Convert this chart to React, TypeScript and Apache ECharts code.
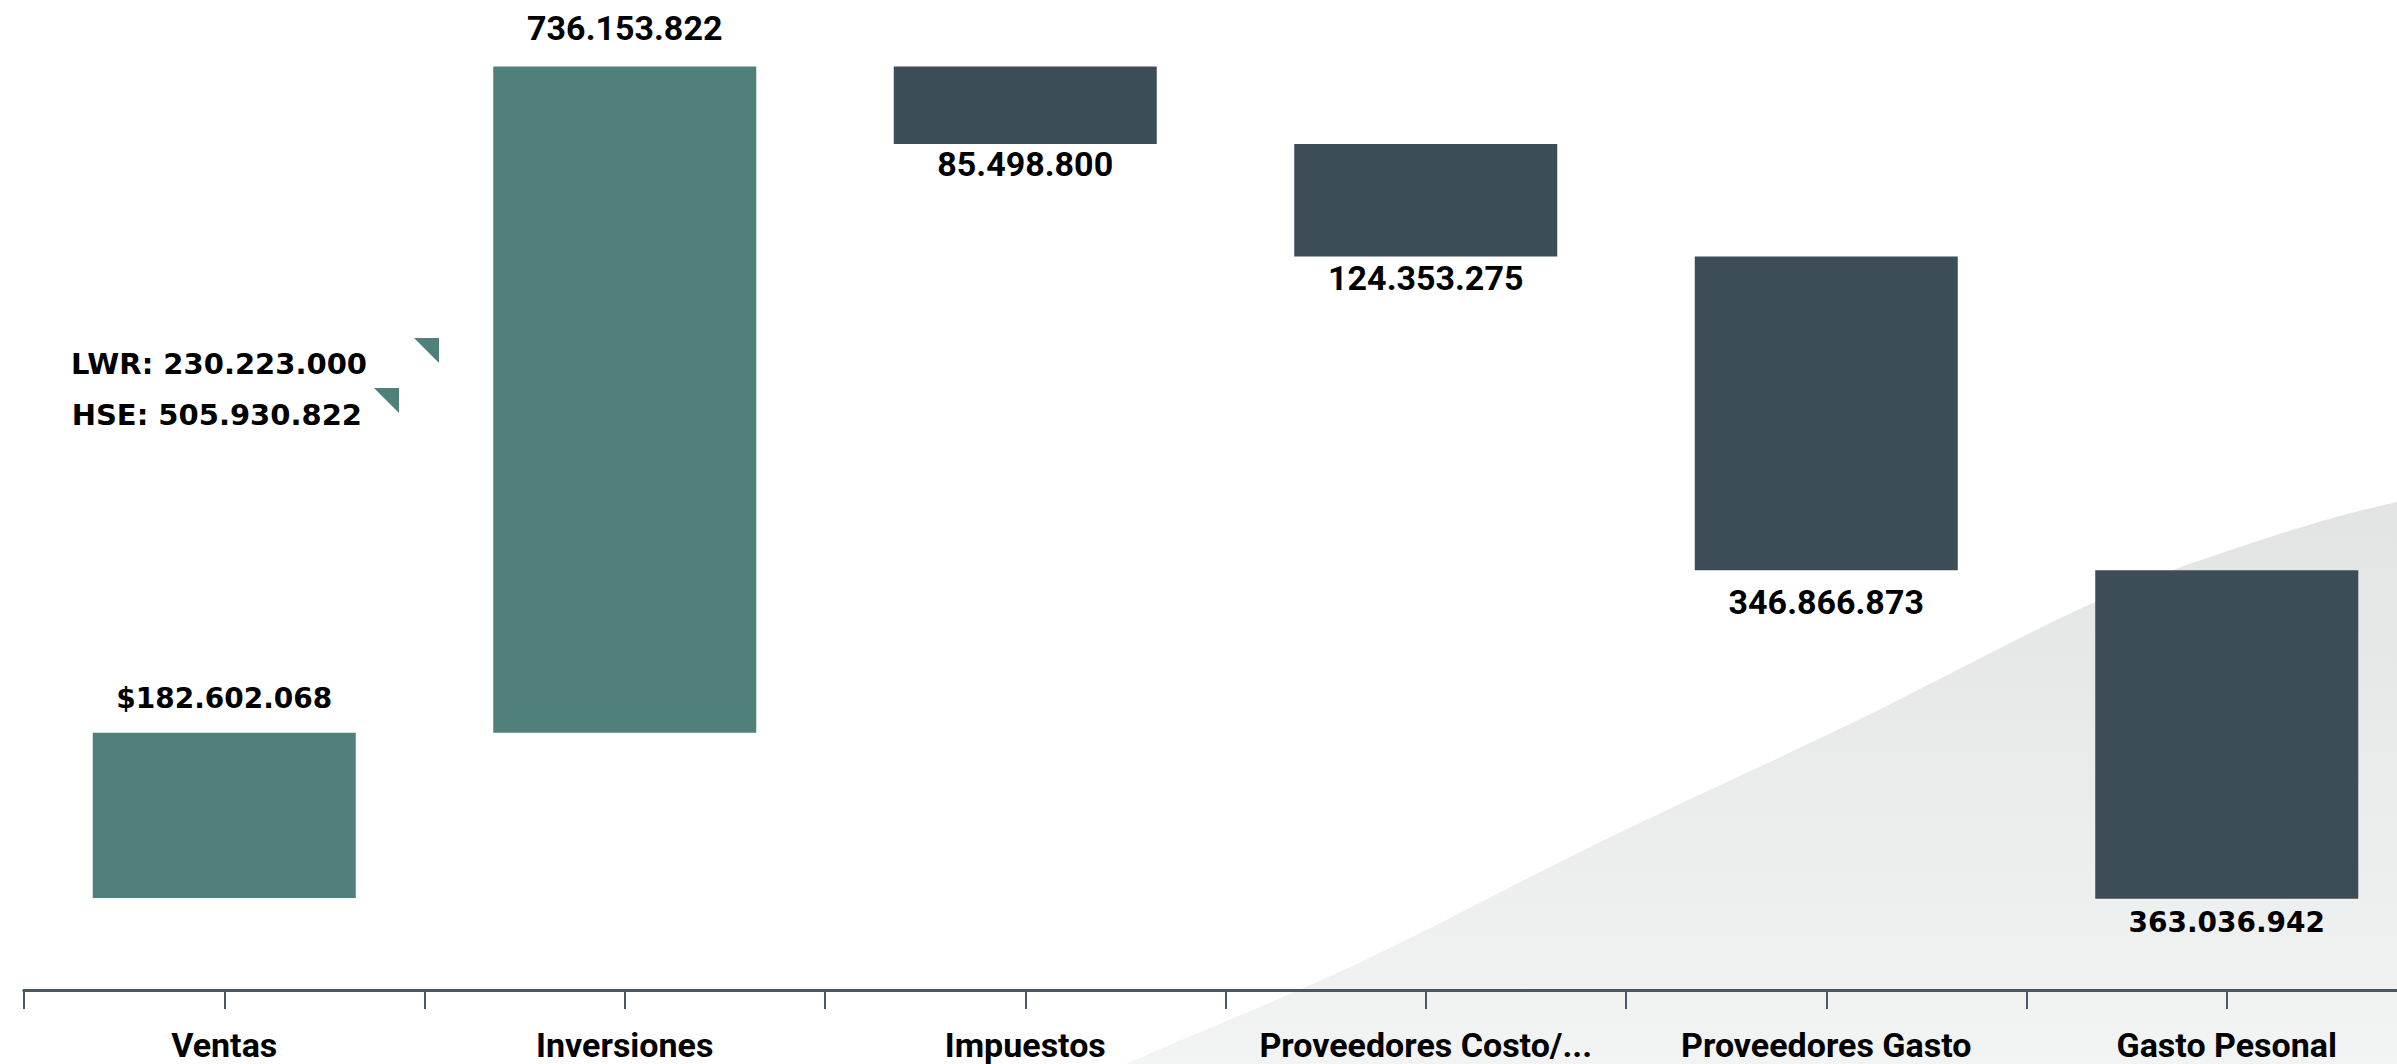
import React, { useEffect, useRef } from "react";
import * as echarts from "echarts";

// ---- data ----
const categories = [
  "Ventas",
  "Inversiones",
  "Impuestos",
  "Proveedores Costo/...",
  "Proveedores Gasto",
  "Gasto Pesonal",
];
const deltas = [182602068, 736153822, -85498800, -124353275, -346866873, -363036942];
const inversionesParts = [
  { name: "LWR", value: 230223000 },
  { name: "HSE", value: 505930822 },
];
const valuePrefix = ["$", "", "", "", "", ""];

// ---- styling (not data) ----
const TEAL = "#4f8079";
const DARK = "#3d4d58";
const AXIS = "#4b5763";
const WIDE = "'DejaVu Sans', 'Open Sans', sans-serif";
const NARROW = "Roboto, 'Noto Sans', sans-serif";

const labelStyles = [
  { position: "top", distance: 20, font: WIDE, size: 28 },
  { position: "top", distance: 22, font: NARROW, size: 34 },
  { position: "bottom", distance: 3, font: NARROW, size: 34 },
  { position: "bottom", distance: 5, font: NARROW, size: 34 },
  { position: "bottom", distance: 15, font: NARROW, size: 34 },
  { position: "bottom", distance: 10, font: WIDE, size: 28 },
];

function fmt(n: number) {
  return String(Math.round(Math.abs(n))).replace(/\B(?=(\d{3})+(?!\d))/g, ".");
}

// background wave path (Catmull-Rom through points)
const wavePts: [number, number][] = [
  [960, 1140],
  [1126, 1064],
  [1361, 962],
  [1600, 842],
  [1854, 722],
  [2095, 602],
  [2261, 540],
  [2397, 502],
  [2540, 478],
  [2700, 462],
];
function buildWave() {
  const p = wavePts;
  let d = `M${p[0][0]} ${p[0][1]}`;
  for (let i = 0; i < p.length - 1; i++) {
    const p0 = p[Math.max(0, i - 1)];
    const p1 = p[i];
    const p2 = p[i + 1];
    const p3 = p[Math.min(p.length - 1, i + 2)];
    const c1x = p1[0] + (p2[0] - p0[0]) / 6;
    const c1y = p1[1] + (p2[1] - p0[1]) / 6;
    const c2x = p2[0] - (p3[0] - p1[0]) / 6;
    const c2y = p2[1] - (p3[1] - p1[1]) / 6;
    d += ` C${c1x} ${c1y} ${c2x} ${c2y} ${p2[0]} ${p2[1]}`;
  }
  d += " L2700 1200 L960 1200 Z";
  return d;
}

let registered = false;
function ensureShape() {
  if (registered) return;
  echarts.graphic.registerShape("bgwave", echarts.graphic.extendPath(buildWave(), {}) as any);
  registered = true;
}

export default function App() {
  const ref = useRef<HTMLDivElement>(null);

  useEffect(() => {
    if (!ref.current) return;
    ensureShape();
    const chart = echarts.init(ref.current, undefined, { renderer: "svg" });

    // waterfall bases
    const bases: number[] = [];
    const mags: number[] = [];
    let run = 0;
    deltas.forEach((d) => {
      if (d >= 0) {
        bases.push(run);
        run += d;
      } else {
        run += d;
        bases.push(run);
      }
      mags.push(Math.abs(d));
    });

    const visible = mags.map((v, i) => {
      const ls = labelStyles[i];
      return {
        value: v,
        itemStyle: { color: deltas[i] >= 0 ? TEAL : DARK },
        label: {
          show: true,
          position: ls.position,
          distance: ls.distance,
          formatter: valuePrefix[i] + fmt(deltas[i]),
          fontFamily: ls.font,
          fontSize: ls.size,
          fontWeight: "bold",
          color: "#000",
        },
      };
    });

    const gridBase = {
      left: 24,
      right: -30,
      top: 0,
      bottom: 74,
      containLabel: false,
      outerBoundsMode: "none",
    };

    const option: any = {
      animation: false,
      backgroundColor: "#ffffff",
      grid: [gridBase, { ...gridBase }],
      xAxis: [
        {
          type: "category",
          data: categories,
          gridIndex: 0,
          position: "bottom",
          boundaryGap: true,
          axisLine: { show: true, onZero: false, lineStyle: { color: AXIS, width: 3 } },
          axisTick: { show: true, interval: 0, length: 19, lineStyle: { color: AXIS, width: 2 } },
          axisLabel: {
            interval: 0,
            margin: 38,
            fontFamily: NARROW,
            fontSize: 34,
            fontWeight: "bold",
            color: "#000",
          },
          splitLine: { show: false },
        },
        {
          type: "category",
          data: categories,
          gridIndex: 1,
          position: "bottom",
          boundaryGap: true,
          axisLine: { show: true, onZero: false, lineStyle: { color: AXIS, width: 3 } },
          axisTick: {
            show: true,
            interval: 0,
            alignWithLabel: true,
            length: 19,
            lineStyle: { color: AXIS, width: 2 },
          },
          axisLabel: { show: false },
          splitLine: { show: false },
        },
      ],
      yAxis: [
        { type: "value", gridIndex: 0, min: -101.7e6, max: 992.3e6, show: false, splitLine: { show: false } },
        { type: "value", gridIndex: 1, min: -101.7e6, max: 992.3e6, show: false, splitLine: { show: false } },
      ],
      series: [
        {
          name: "base",
          type: "bar",
          stack: "wf",
          stackStrategy: "all",
          xAxisIndex: 0,
          yAxisIndex: 0,
          barWidth: 263,
          silent: true,
          itemStyle: { color: "transparent" },
          label: { show: false },
          data: bases,
        },
        {
          name: "valor",
          type: "bar",
          stack: "wf",
          stackStrategy: "all",
          xAxisIndex: 0,
          yAxisIndex: 0,
          barWidth: 263,
          data: visible,
        },
      ],
      graphic: [
        {
          type: "bgwave",
          x: 0,
          y: 0,
          z: -10,
          silent: true,
          style: {
            fill: new echarts.graphic.LinearGradient(0, 0, 0, 1, [
              { offset: 0, color: "#e1e3e2" },
              { offset: 0.8, color: "#f2f3f3" },
              { offset: 1, color: "#f5f6f6" },
            ]),
          },
        },
        {
          type: "text",
          x: 367,
          y: 364,
          z: 10,
          style: {
            text: `${inversionesParts[0].name}: ${fmt(inversionesParts[0].value)}`,
            align: "right",
            verticalAlign: "middle",
            fontFamily: WIDE,
            fontSize: 29,
            fontWeight: "bold",
            fill: "#000",
          },
        },
        {
          type: "polygon",
          z: 10,
          shape: { points: [[414, 338], [439, 338], [439, 363]] },
          style: { fill: TEAL },
        },
        {
          type: "text",
          x: 362,
          y: 415,
          z: 10,
          style: {
            text: `${inversionesParts[1].name}: ${fmt(inversionesParts[1].value)}`,
            align: "right",
            verticalAlign: "middle",
            fontFamily: WIDE,
            fontSize: 29,
            fontWeight: "bold",
            fill: "#000",
          },
        },
        {
          type: "polygon",
          z: 10,
          shape: { points: [[374, 388], [399, 388], [399, 413]] },
          style: { fill: TEAL },
        },
      ],
    };

    chart.setOption(option);
    return () => chart.dispose();
  }, []);

  return (
    <div
      ref={ref}
      style={{ position: "fixed", left: 0, top: 0, width: 2397, height: 1064, background: "#fff" }}
    />
  );
}
